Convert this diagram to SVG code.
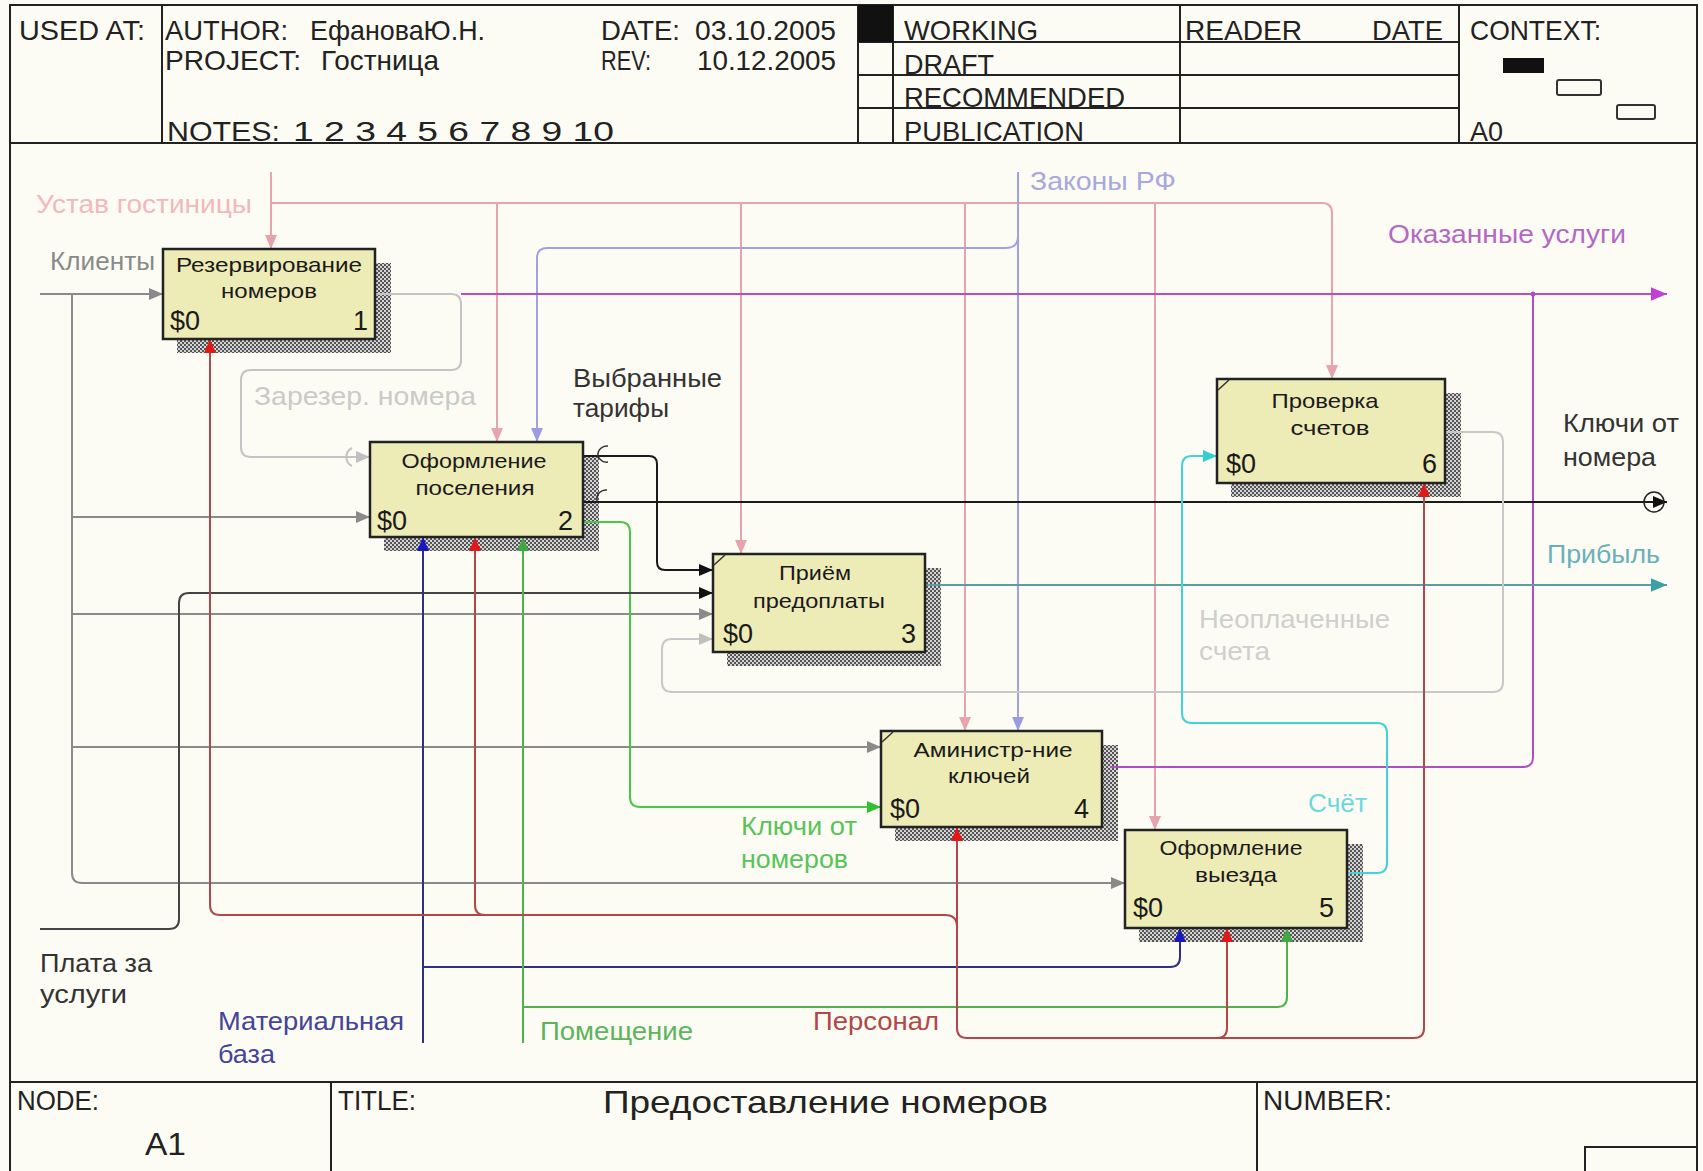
<svg xmlns="http://www.w3.org/2000/svg" width="1703" height="1171" viewBox="0 0 1703 1171">
<style>
text{font-family:"Liberation Sans",Arial,sans-serif;}
.h{font-size:28px;fill:#222;}
.nm{font-size:21px;fill:#1a1a1a;text-anchor:middle;}
.c{font-size:27px;fill:#1a1a1a;}
.ce{font-size:27px;fill:#1a1a1a;text-anchor:end;}
.l{font-size:26px;}
.fr{stroke:#222;stroke-width:2;fill:none;}
.box{fill:#EDEBB6;stroke:#222;stroke-width:2.5;}
.sh{fill:url(#hatch);}
.ln{fill:none;stroke-width:2;}
</style>
<defs>
<pattern id="hatch" width="4" height="4" patternUnits="userSpaceOnUse"><rect width="4" height="4" fill="#d4d4d4"/><rect width="2" height="2" fill="#555"/><rect x="2" y="2" width="2" height="2" fill="#555"/></pattern>
<marker id="aGray" viewBox="0 0 14 12" refX="14" refY="6" markerWidth="14" markerHeight="12" markerUnits="userSpaceOnUse" orient="auto-start-reverse"><path d="M0,0L14,6L0,12z" fill="#8a8a8a"/></marker>
<marker id="aLt" viewBox="0 0 14 12" refX="14" refY="6" markerWidth="14" markerHeight="12" markerUnits="userSpaceOnUse" orient="auto-start-reverse"><path d="M0,0L14,6L0,12z" fill="#c0c0c0"/></marker>
<marker id="aPink" viewBox="0 0 14 12" refX="14" refY="6" markerWidth="14" markerHeight="12" markerUnits="userSpaceOnUse" orient="auto-start-reverse"><path d="M0,0L14,6L0,12z" fill="#E6A4AC"/></marker>
<marker id="aLav" viewBox="0 0 14 12" refX="14" refY="6" markerWidth="14" markerHeight="12" markerUnits="userSpaceOnUse" orient="auto-start-reverse"><path d="M0,0L14,6L0,12z" fill="#9C9CE4"/></marker>
<marker id="aPur" viewBox="0 0 14 12" refX="14" refY="6" markerWidth="16" markerHeight="14" markerUnits="userSpaceOnUse" orient="auto-start-reverse"><path d="M0,0L14,6L0,12z" fill="#C040D0"/></marker>
<marker id="aBlk" viewBox="0 0 14 12" refX="14" refY="6" markerWidth="14" markerHeight="12" markerUnits="userSpaceOnUse" orient="auto-start-reverse"><path d="M0,0L14,6L0,12z" fill="#111"/></marker>
<marker id="aTeal" viewBox="0 0 14 12" refX="14" refY="6" markerWidth="16" markerHeight="14" markerUnits="userSpaceOnUse" orient="auto-start-reverse"><path d="M0,0L14,6L0,12z" fill="#3AA0A0"/></marker>
<marker id="aCyan" viewBox="0 0 14 12" refX="14" refY="6" markerWidth="14" markerHeight="12" markerUnits="userSpaceOnUse" orient="auto-start-reverse"><path d="M0,0L14,6L0,12z" fill="#30D0D0"/></marker>
<marker id="aGrn" viewBox="0 0 14 12" refX="14" refY="6" markerWidth="14" markerHeight="12" markerUnits="userSpaceOnUse" orient="auto-start-reverse"><path d="M0,0L14,6L0,12z" fill="#30C030"/></marker>
<marker id="aGrn2" viewBox="0 0 14 12" refX="14" refY="6" markerWidth="14" markerHeight="12" markerUnits="userSpaceOnUse" orient="auto-start-reverse"><path d="M0,0L14,6L0,12z" fill="#40A840"/></marker>
<marker id="aBlue" viewBox="0 0 14 12" refX="14" refY="6" markerWidth="14" markerHeight="12" markerUnits="userSpaceOnUse" orient="auto-start-reverse"><path d="M0,0L14,6L0,12z" fill="#1818C0"/></marker>
<marker id="aRed" viewBox="0 0 14 12" refX="14" refY="6" markerWidth="14" markerHeight="12" markerUnits="userSpaceOnUse" orient="auto-start-reverse"><path d="M0,0L14,6L0,12z" fill="#E01818"/></marker>
</defs>
<rect width="1703" height="1171" fill="#FDFCF4"/>

<g id="frame">
<rect x="10" y="5" width="1687" height="1170" class="fr"/>
<line x1="10" y1="143" x2="1697" y2="143" class="fr"/>
<line x1="162" y1="5" x2="162" y2="143" class="fr"/>
<line x1="858" y1="5" x2="858" y2="143" class="fr"/>
<line x1="893" y1="5" x2="893" y2="143" class="fr"/>
<line x1="1180" y1="5" x2="1180" y2="143" class="fr"/>
<line x1="1459" y1="5" x2="1459" y2="143" class="fr"/>
<line x1="858" y1="42" x2="1459" y2="42" class="fr"/>
<line x1="858" y1="75" x2="1459" y2="75" class="fr"/>
<line x1="858" y1="108" x2="1459" y2="108" class="fr"/>
<rect x="858" y="5" width="35" height="37" fill="#111"/>
<rect x="1503" y="58" width="41" height="15" fill="#111"/>
<rect x="1557" y="80" width="44" height="15" rx="2" fill="none" stroke="#333" stroke-width="2"/>
<rect x="1617" y="105" width="38" height="14" rx="2" fill="none" stroke="#333" stroke-width="2"/>
<line x1="10" y1="1082" x2="1697" y2="1082" class="fr"/>
<line x1="331" y1="1082" x2="331" y2="1171" class="fr"/>
<line x1="1257" y1="1082" x2="1257" y2="1171" class="fr"/>
<rect x="1585" y="1147" width="112" height="30" class="fr"/>
</g>

<g id="header-text">
<text class="h" x="19" y="40" textLength="126" lengthAdjust="spacingAndGlyphs">USED AT:</text>
<text class="h" x="165" y="40" textLength="123" lengthAdjust="spacingAndGlyphs">AUTHOR:</text>
<text class="h" x="310" y="40" textLength="175" lengthAdjust="spacingAndGlyphs">ЕфановаЮ.Н.</text>
<text class="h" x="165" y="70" textLength="136" lengthAdjust="spacingAndGlyphs">PROJECT:</text>
<text class="h" x="321" y="70" textLength="118" lengthAdjust="spacingAndGlyphs">Гостница</text>
<text class="h" x="601" y="40" textLength="79" lengthAdjust="spacingAndGlyphs">DATE:</text>
<text class="h" x="695" y="40" textLength="141" lengthAdjust="spacingAndGlyphs">03.10.2005</text>
<text class="h" x="601" y="70" textLength="50" lengthAdjust="spacingAndGlyphs">REV:</text>
<text class="h" x="697" y="70" textLength="139" lengthAdjust="spacingAndGlyphs">10.12.2005</text>
<text class="h" x="167" y="141" textLength="113" lengthAdjust="spacingAndGlyphs">NOTES:</text>
<text class="h" x="293" y="141" textLength="321" lengthAdjust="spacingAndGlyphs">1  2  3  4  5  6  7  8  9  10</text>
<text class="h" x="904" y="40" textLength="134" lengthAdjust="spacingAndGlyphs">WORKING</text>
<text class="h" x="904" y="74" textLength="90" lengthAdjust="spacingAndGlyphs">DRAFT</text>
<text class="h" x="904" y="107" textLength="221" lengthAdjust="spacingAndGlyphs">RECOMMENDED</text>
<text class="h" x="904" y="141" textLength="180" lengthAdjust="spacingAndGlyphs">PUBLICATION</text>
<text class="h" x="1185" y="40" textLength="117" lengthAdjust="spacingAndGlyphs">READER</text>
<text class="h" x="1372" y="40" textLength="71" lengthAdjust="spacingAndGlyphs">DATE</text>
<text class="h" x="1470" y="40" textLength="131" lengthAdjust="spacingAndGlyphs">CONTEXT:</text>
<text class="h" x="1470" y="141" textLength="33" lengthAdjust="spacingAndGlyphs">A0</text>
<text class="h" x="17" y="1110" textLength="82" lengthAdjust="spacingAndGlyphs">NODE:</text>
<text class="h" x="145" y="1155" style="font-size:31px" textLength="41" lengthAdjust="spacingAndGlyphs">A1</text>
<text class="h" x="338" y="1110" textLength="78" lengthAdjust="spacingAndGlyphs">TITLE:</text>
<text class="h" x="603" y="1113" style="font-size:32px" textLength="445" lengthAdjust="spacingAndGlyphs">Предоставление  номеров</text>
<text class="h" x="1263" y="1110" textLength="129" lengthAdjust="spacingAndGlyphs">NUMBER:</text>
</g>

<g id="shadows">
<rect class="sh" x="177" y="263" width="214" height="90"/>
<rect class="sh" x="384" y="456" width="215" height="95"/>
<rect class="sh" x="727" y="568" width="214" height="98"/>
<rect class="sh" x="895" y="745" width="223" height="96"/>
<rect class="sh" x="1139" y="844" width="224" height="98"/>
<rect class="sh" x="1231" y="393" width="230" height="104"/>
</g>

<g id="connectors">
<path class="ln" stroke="#8a8a8a" d="M40,294H163" marker-end="url(#aGray)"/>
<path class="ln" stroke="#8a8a8a" d="M72,294V873Q72,883 82,883H1125" marker-end="url(#aGray)"/>
<path class="ln" stroke="#8a8a8a" d="M72,517H370" marker-end="url(#aGray)"/>
<path class="ln" stroke="#8a8a8a" d="M72,614H713" marker-end="url(#aGray)"/>
<path class="ln" stroke="#8a8a8a" d="M72,747H881" marker-end="url(#aGray)"/>
<path class="ln" stroke="#E6A4AC" d="M271,172V249" marker-end="url(#aPink)"/>
<path class="ln" stroke="#E6A4AC" d="M271,203H1322Q1332,203 1332,213V379" marker-end="url(#aPink)"/>
<path class="ln" stroke="#E6A4AC" d="M497,203V442" marker-end="url(#aPink)"/>
<path class="ln" stroke="#E6A4AC" d="M741,203V554" marker-end="url(#aPink)"/>
<path class="ln" stroke="#E6A4AC" d="M965,203V731" marker-end="url(#aPink)"/>
<path class="ln" stroke="#E6A4AC" d="M1155,203V830" marker-end="url(#aPink)"/>
<path class="ln" stroke="#A0A0E6" d="M1018,172V731" marker-end="url(#aLav)"/>
<path class="ln" stroke="#A0A0E6" d="M1018,236Q1018,248 1006,248H547Q537,248 537,258V442" marker-end="url(#aLav)"/>
<path class="ln" stroke="#C4C4C4" d="M375,294H451Q461,294 461,304V360Q461,370 451,370H251Q241,370 241,380V447Q241,457 251,457H370" marker-end="url(#aLt)"/>
<path d="M352,448A10,10 0 0 0 352,466" fill="none" stroke="#C4C4C4" stroke-width="2"/>
<path class="ln" stroke="#B84CCC" stroke-width="3" d="M461,294H1667" marker-end="url(#aPur)"/>
<path class="ln" stroke="#B050C0" stroke-width="2.5" d="M1110,767H1523Q1533,767 1533,757V294"/>
<circle cx="1533" cy="294" r="2.5" fill="#B050C0"/>
<path class="ln" stroke="#1a1a1a" stroke-width="2.5" d="M583,456H649Q657,456 657,464V562Q657,570 665,570H713" marker-end="url(#aBlk)"/>
<path d="M608,446A9,9 0 0 0 598,456M608,462A9,9 0 0 1 598,456" fill="none" stroke="#333" stroke-width="1.5"/>
<path class="ln" stroke="#1a1a1a" stroke-width="2.5" d="M583,502H1667" marker-end="url(#aBlk)"/>
<path d="M607,490A9,9 0 0 0 597,500" fill="none" stroke="#333" stroke-width="1.5"/>
<circle cx="1654" cy="502" r="10" fill="none" stroke="#222" stroke-width="1.5"/>
<path class="ln" stroke="#48C848" d="M583,522H620Q630,522 630,532V797Q630,807 640,807H881" marker-end="url(#aGrn)"/>
<path class="ln" stroke="#5A9EA2" d="M925,585H1667" marker-end="url(#aTeal)"/>
<path class="ln" stroke="#C8C8C8" d="M1445,432H1493Q1503,432 1503,442V682Q1503,692 1493,692H672Q662,692 662,682V649Q662,639 672,639H713" marker-end="url(#aLt)"/>
<path class="ln" stroke="#40D4D4" d="M1347,873H1377Q1387,873 1387,863V733Q1387,723 1377,723H1192Q1182,723 1182,713V466Q1182,456 1192,456H1217" marker-end="url(#aCyan)"/>
<path class="ln" stroke="#444" stroke-width="3" d="M40,929H169Q179,929 179,919V603Q179,593 189,593H713" marker-end="url(#aBlk)"/>
<path class="ln" stroke="#303080" d="M423,1043V537" marker-end="url(#aBlue)"/>
<path class="ln" stroke="#303080" d="M423,967H1170Q1180,967 1180,957V928" marker-end="url(#aBlue)"/>
<path class="ln" stroke="#50B050" d="M523,1043V537" marker-end="url(#aGrn2)"/>
<path class="ln" stroke="#50B050" d="M523,1007H1277Q1287,1007 1287,997V928" marker-end="url(#aGrn2)"/>
<path class="ln" stroke="#B04848" d="M1424,483V1028Q1424,1038 1414,1038H967Q957,1038 957,1028V827" marker-start="url(#aRed)" marker-end="url(#aRed)"/>
<path class="ln" stroke="#B04848" d="M1217,1038Q1227,1038 1227,1028V928" marker-end="url(#aRed)"/>
<path class="ln" stroke="#B04848" d="M957,927Q957,915 945,915H220Q210,915 210,905V339" marker-end="url(#aRed)"/>
<path class="ln" stroke="#B04848" d="M485,915Q475,915 475,905V537" marker-end="url(#aRed)"/>
</g>

<g id="labels">
<text class="l" x="36" y="213" fill="#F2B8BC" textLength="216" lengthAdjust="spacingAndGlyphs">Устав гостиницы</text>
<text class="l" x="50" y="270" fill="#8A8A8A" textLength="105" lengthAdjust="spacingAndGlyphs">Клиенты</text>
<text class="l" x="1030" y="190" fill="#A8A8DC" textLength="146" lengthAdjust="spacingAndGlyphs">Законы РФ</text>
<text class="l" x="1388" y="243" fill="#B468C4" textLength="238" lengthAdjust="spacingAndGlyphs">Оказанные услуги</text>
<text class="l" x="254" y="405" fill="#CACACA" textLength="222" lengthAdjust="spacingAndGlyphs">Зарезер. номера</text>
<text class="l" x="573" y="387" fill="#333" textLength="149" lengthAdjust="spacingAndGlyphs">Выбранные</text>
<text class="l" x="573" y="417" fill="#333" textLength="96" lengthAdjust="spacingAndGlyphs">тарифы</text>
<text class="l" x="1563" y="432" fill="#333" textLength="116" lengthAdjust="spacingAndGlyphs">Ключи от</text>
<text class="l" x="1563" y="466" fill="#333" textLength="93" lengthAdjust="spacingAndGlyphs">номера</text>
<text class="l" x="1547" y="563" fill="#6AB0B8" textLength="113" lengthAdjust="spacingAndGlyphs">Прибыль</text>
<text class="l" x="1199" y="628" fill="#CFCFCF" textLength="191" lengthAdjust="spacingAndGlyphs">Неоплаченные</text>
<text class="l" x="1199" y="660" fill="#CFCFCF" textLength="71" lengthAdjust="spacingAndGlyphs">счета</text>
<text class="l" x="1308" y="812" fill="#6CD8DC" textLength="59" lengthAdjust="spacingAndGlyphs">Счёт</text>
<text class="l" x="741" y="835" fill="#58C458" textLength="116" lengthAdjust="spacingAndGlyphs">Ключи от</text>
<text class="l" x="741" y="868" fill="#58C458" textLength="107" lengthAdjust="spacingAndGlyphs">номеров</text>
<text class="l" x="40" y="972" fill="#333" textLength="112" lengthAdjust="spacingAndGlyphs">Плата за</text>
<text class="l" x="40" y="1003" fill="#333" textLength="87" lengthAdjust="spacingAndGlyphs">услуги</text>
<text class="l" x="218" y="1030" fill="#44449A" textLength="186" lengthAdjust="spacingAndGlyphs">Материальная</text>
<text class="l" x="218" y="1063" fill="#44449A" textLength="57" lengthAdjust="spacingAndGlyphs">база</text>
<text class="l" x="540" y="1040" fill="#5CB45C" textLength="153" lengthAdjust="spacingAndGlyphs">Помещение</text>
<text class="l" x="813" y="1030" fill="#B04848" textLength="126" lengthAdjust="spacingAndGlyphs">Персонал</text>
</g>

<g id="node-1">
<rect class="box" x="163" y="249" width="212" height="90"/>
<text class="nm" x="269" y="272" textLength="186" lengthAdjust="spacingAndGlyphs">Резервирование</text>
<text class="nm" x="269" y="298" textLength="96" lengthAdjust="spacingAndGlyphs">номеров</text>
<text class="c" x="170" y="330">$0</text>
<text class="ce" x="368" y="330">1</text>
</g>
<g id="node-2">
<rect class="box" x="370" y="442" width="213" height="95"/>
<text class="nm" x="474" y="468" textLength="145" lengthAdjust="spacingAndGlyphs">Оформление</text>
<text class="nm" x="475" y="495" textLength="119" lengthAdjust="spacingAndGlyphs">поселения</text>
<text class="c" x="377" y="530">$0</text>
<text class="ce" x="573" y="530">2</text>
</g>
<g id="node-3">
<rect class="box" x="713" y="554" width="212" height="98"/>
<line x1="714" y1="565" x2="725" y2="555" stroke="#333" stroke-width="1.5"/>
<text class="nm" x="815" y="580" textLength="72" lengthAdjust="spacingAndGlyphs">Приём</text>
<text class="nm" x="819" y="608" textLength="132" lengthAdjust="spacingAndGlyphs">предоплаты</text>
<text class="c" x="723" y="643">$0</text>
<text class="ce" x="916" y="643">3</text>
</g>
<g id="node-4">
<rect class="box" x="881" y="731" width="221" height="96"/>
<line x1="882" y1="742" x2="893" y2="732" stroke="#333" stroke-width="1.5"/>
<text class="nm" x="993" y="757" textLength="159" lengthAdjust="spacingAndGlyphs">Аминистр-ние</text>
<text class="nm" x="989" y="783" textLength="82" lengthAdjust="spacingAndGlyphs">ключей</text>
<text class="c" x="890" y="818">$0</text>
<text class="ce" x="1089" y="818">4</text>
</g>
<g id="node-5">
<rect class="box" x="1125" y="830" width="222" height="98"/>
<text class="nm" x="1231" y="855" textLength="143" lengthAdjust="spacingAndGlyphs">Оформление</text>
<text class="nm" x="1236" y="882" textLength="82" lengthAdjust="spacingAndGlyphs">выезда</text>
<text class="c" x="1133" y="917">$0</text>
<text class="ce" x="1334" y="917">5</text>
</g>
<g id="node-6">
<rect class="box" x="1217" y="379" width="228" height="104"/>
<line x1="1218" y1="390" x2="1229" y2="380" stroke="#333" stroke-width="1.5"/>
<text class="nm" x="1325" y="408" textLength="107" lengthAdjust="spacingAndGlyphs">Проверка</text>
<text class="nm" x="1330" y="435" textLength="79" lengthAdjust="spacingAndGlyphs">счетов</text>
<text class="c" x="1226" y="473">$0</text>
<text class="ce" x="1437" y="473">6</text>
</g>
</svg>
